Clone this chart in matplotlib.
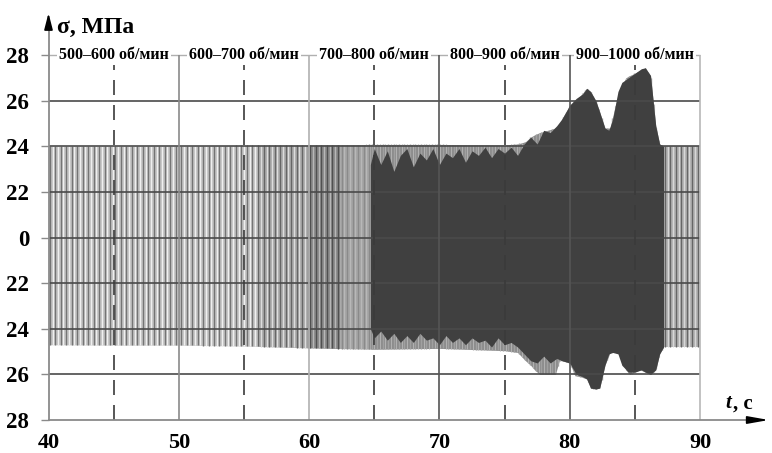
import numpy as np
import matplotlib
matplotlib.use("Agg")
import matplotlib.pyplot as plt

# ---------------- data ----------------
# y positions are equally spaced rows; labels as printed on the chart
y_pos = [-4, -3, -2, -1, 0, 1, 2, 3, 4]
y_labels = ["28", "26", "24", "22", "0", "22", "24", "26", "28"]
x_ticks = [40, 50, 60, 70, 80, 90]
x_tick_labels = ["40", "50", "60", "70", "80", "90"]

# speed ranges (label centres, seconds)
range_centres = [45, 55, 65, 75, 85]
range_labels = ["500–600 об/мин", "600–700 об/мин", "700–800 об/мин",
                "800–900 об/мин", "900–1000 об/мин"]

# outer envelope of the oscillating signal (row units)
t_env = [40, 45, 50, 55, 60, 65, 70, 75, 76, 76.6, 77.0, 77.3, 77.7, 78.3,
         78.9, 79.2, 79.4, 80.0, 80.4, 80.8, 81.3, 81.6, 82.0, 82.3, 82.7,
         83.1, 83.5, 83.9, 84.3, 84.6, 85.0, 85.4, 85.8, 86.2, 86.4, 86.6,
         86.9, 87.2, 88, 89, 90]
upper_env = [2.0, 2.0, 2.0, 2.02, 2.03, 2.04, 2.04, 2.03, 2.05, 2.1, 2.2,
             2.25, 2.3, 2.35, 2.4, 2.45, 2.6, 2.9, 3.0, 3.1, 3.27, 3.2, 3.0,
             2.75, 2.4, 2.4, 2.9, 3.25, 3.5, 3.55, 3.6, 3.65, 3.72, 3.55,
             3.0, 2.45, 2.05, 2.0, 2.0, 2.0, 2.0]
lower_env = [-2.35, -2.36, -2.36, -2.38, -2.42, -2.45, -2.43, -2.48, -2.52,
             -2.7, -2.8, -2.9, -3.0, -3.0, -3.0, -2.7, -2.7, -2.75, -3.03,
             -3.05, -3.1, -3.3, -3.32, -3.3, -2.8, -2.52, -2.52, -2.55, -2.9,
             -3.0, -2.95, -2.9, -2.95, -3.0, -2.95, -2.9, -2.55, -2.4, -2.4,
             -2.4, -2.4]

# dense (dark) part of the record, 700–1000 об/мин
t_dark = [64.7, 65.0, 65.5, 66.0, 66.5, 67.0, 67.5, 68.0, 68.5, 69.0, 69.5,
          70.0, 70.5, 71.0, 71.5, 72.0, 72.5, 73.0, 73.5, 74.0, 74.5, 75.0,
          75.5, 76.0, 76.5, 77.0, 77.5, 78.0, 78.5, 79.0, 79.4, 80.0, 80.5,
          81.0, 81.3, 81.6, 82.0, 82.3, 82.7, 83.0, 83.3, 83.7, 84.0, 84.5,
          85.0, 85.5, 85.8, 86.2, 86.4, 86.6, 86.9, 87.2]
dark_upper = [1.6, 1.95, 1.6, 1.9, 1.45, 1.8, 1.95, 1.55, 1.85, 1.7, 1.95,
              1.6, 1.85, 1.75, 1.95, 1.65, 1.9, 1.8, 1.98, 1.75, 1.95, 1.85,
              1.98, 1.8, 2.05, 2.2, 2.05, 2.35, 2.3, 2.45, 2.6, 2.9, 3.05,
              3.15, 3.27, 3.2, 3.0, 2.75, 2.4, 2.35, 2.6, 3.2, 3.4, 3.5, 3.6,
              3.7, 3.72, 3.55, 3.0, 2.45, 2.05, 2.0]
dark_lower = [-2.0, -2.2, -2.05, -2.25, -2.1, -2.3, -2.15, -2.3, -2.1, -2.25,
              -2.2, -2.35, -2.15, -2.3, -2.2, -2.35, -2.2, -2.3, -2.25, -2.4,
              -2.2, -2.35, -2.3, -2.4, -2.55, -2.7, -2.75, -2.6, -2.75, -2.65,
              -2.7, -2.75, -3.0, -3.05, -3.1, -3.3, -3.32, -3.3, -2.8, -2.55,
              -2.52, -2.55, -2.8, -2.95, -2.95, -2.9, -2.95, -3.0, -2.95,
              -2.9, -2.55, -2.4]

# ---------------- styling ----------------
seg_edges = [40, 56, 60, 62.4, 64.7, 87.2, 90]
seg_base = ["#c6c6c6", "#aeaeae", "#8c8c8c", "#a6a6a6", "#8c8c8c", "#b4b4b4"]
seg_line = ["#747474", "#666666", "#505050", "#8a8a8a", "#a0a0a0", "#666666"]
seg_gap = ["#f0f0f0", "#dddddd", "#b8b8b8", "#b8b8b8", "#b0b0b0", "#d8d8d8"]

plt.rcParams["font.family"] = ["Liberation Serif", "DejaVu Serif"]
plt.rcParams["font.weight"] = "bold"

fig = plt.figure(figsize=(7.72, 4.53), dpi=100)
ax = fig.add_axes([48.5 / 772, 33 / 453, 723.2 / 772, 410.6 / 453])
ax.set_xlim(40, 95.5)
ax.set_ylim(-4, 5.0)
for s in ax.spines.values():
    s.set_visible(False)

# signal body
tt = np.linspace(40, 90, 4001)
up = np.interp(tt, t_env, upper_env)
lo = np.interp(tt, t_env, lower_env)
for i in range(len(seg_base)):
    a, b = seg_edges[i], seg_edges[i + 1]
    m = (tt >= a) & (tt <= b)
    ax.fill_between(tt[m], lo[m], up[m], color=seg_base[i], lw=0, zorder=1)
    xs = np.arange(a + 0.1, b, 0.42)
    ax.vlines(xs, np.interp(xs, t_env, lower_env), np.interp(xs, t_env, upper_env),
              colors=seg_line[i], lw=1.0, zorder=2)
    xs2 = np.arange(a + 0.31, b, 0.42)
    ax.vlines(xs2, np.interp(xs2, t_env, lower_env), np.interp(xs2, t_env, upper_env),
              colors=seg_gap[i], lw=0.8, zorder=2)

td = np.linspace(t_dark[0], t_dark[-1], 3000)
ax.fill_between(td, np.interp(td, t_dark, dark_lower), np.interp(td, t_dark, dark_upper),
                color="#404040", lw=0, zorder=3)

# grid
ax.hlines([-3, -2, -1, 0, 1, 2, 3], 40, 90, colors="#4a4a4a", lw=1.2, zorder=5)
ax.hlines([4], 40, 90, colors="#b0b0b0", lw=1.0, zorder=5)
solid_x = [50, 60, 70, 80, 90]
solid_c = ["#8a8a8a", "#b0b0b0", "#555555", "#555555", "#b8b8b8"]
for x, c in zip(solid_x, solid_c):
    ax.vlines(x, -4, 4, colors=c, lw=1.2, zorder=5)
for x in [45, 55, 65, 75, 85]:
    ln, = ax.plot([x, x], [-4, 4], color="#3a3a3a", lw=1.2, zorder=5)
    ln.set_dashes((9, 6))

# axes with arrows
ax.plot([40, 40], [-4, 4.7], color="#8a8a8a", lw=1.3, zorder=6, clip_on=False)
ax.annotate("", xy=(40, 4.98), xytext=(40, 4.6),
            arrowprops=dict(arrowstyle="-|>,head_length=0.7,head_width=0.18",
                            color="black", lw=1.2, mutation_scale=14),
            zorder=7, annotation_clip=False)
ax.plot([40, 94.5], [-4, -4], color="#8a8a8a", lw=1.3, zorder=6, clip_on=False)
ax.annotate("", xy=(95.5, -4), xytext=(94.0, -4),
            arrowprops=dict(arrowstyle="-|>,head_length=0.9,head_width=0.16",
                            color="black", lw=1.2, mutation_scale=14),
            zorder=7, annotation_clip=False)

# ticks
ax.set_yticks(y_pos)
ax.set_yticklabels(y_labels, fontsize=16.5, fontweight="bold")
ax.tick_params(axis="y", length=6, width=1.0, color="#8a8a8a", pad=8)
ax.set_xticks(x_ticks)
ax.set_xticklabels(x_tick_labels, fontsize=16, fontweight="bold")
ax.tick_params(axis="x", length=0, pad=9)

# speed range labels
for xc, lab in zip(range_centres, range_labels):
    ax.text(xc, 4, lab, ha="center", va="center", fontsize=11.5, fontweight="bold",
            zorder=10, bbox=dict(facecolor="white", edgecolor="none", pad=1.5))

# axis titles
ax.text(40.65, 4.48, "σ, МПа", ha="left", va="baseline", fontsize=17,
        fontweight="bold", zorder=10, clip_on=False)
ax.text(91.92, -3.74, "t", ha="left", va="baseline", fontsize=15,
        fontweight="bold", style="italic", zorder=10)
ax.text(92.55, -3.74, ", c", ha="left", va="baseline", fontsize=15,
        fontweight="bold", zorder=10)

fig.savefig("out.png", dpi=100, facecolor="white")
